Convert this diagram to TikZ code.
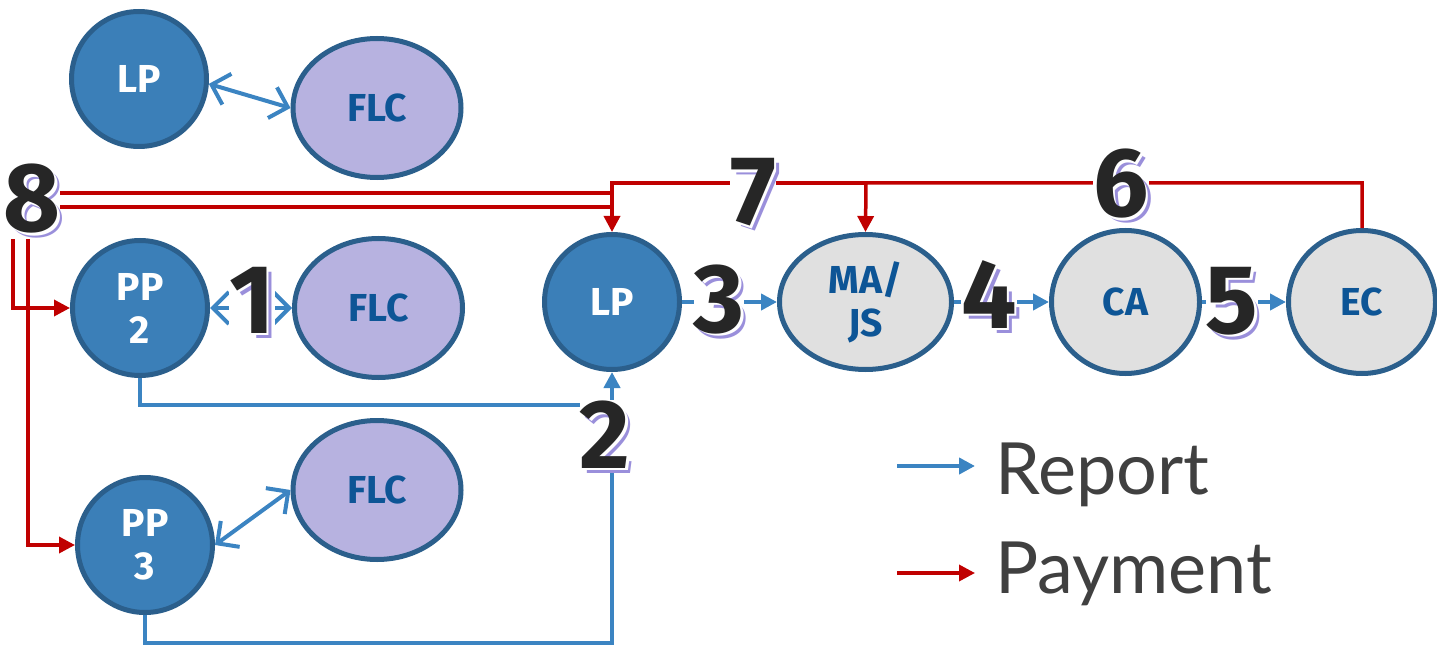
\documentclass[tikz,border=0pt]{standalone}
\usepackage{fontspec}
\setsansfont{Fira Sans}
\newfontfamily\legendfont{Lato}
\usetikzlibrary{positioning,shapes.geometric,arrows.meta}

\definecolor{lpblue}{RGB}{59,127,184}
\definecolor{rimblue}{RGB}{43,95,140}
\definecolor{flcpurple}{RGB}{183,178,224}
\definecolor{bodygray}{RGB}{224,224,224}
\definecolor{inkblue}{RGB}{13,85,150}
\definecolor{reportblue}{RGB}{59,132,194}
\definecolor{payred}{RGB}{192,0,0}
\definecolor{numshade}{RGB}{154,143,219}
\definecolor{numink}{RGB}{38,38,38}
\definecolor{legendgray}{RGB}{64,64,64}

\newcommand{\bignum}[1]{%
  \makebox[0pt][l]{\hspace{5pt}\raisebox{-5pt}{\color{numshade}#1}}%
  \makebox[0pt][l]{\hspace{2.5pt}\raisebox{-2.5pt}{\color{white}#1}}%
  #1}

\begin{document}
\begin{tikzpicture}[x=1pt, y=-1pt, node distance=95pt,
    party/.style={draw=rimblue, line width=5pt, inner sep=0pt, align=center,
      font=\sffamily\bfseries\fontsize{39}{43}\selectfont},
    lpnode/.style={party, circle, fill=lpblue, text=white, minimum size=135pt},
    flcnode/.style={party, ellipse, fill=flcpurple, text=inkblue, minimum width=168pt, minimum height=139pt},
    bodynode/.style={party, ellipse, fill=bodygray, text=inkblue},
    numlabel/.style={fill=white, inner sep=0pt, anchor=base, text=numink,
      font=\sffamily\bfseries\fontsize{98}{98}\selectfont},
    link/.style={reportblue, line width=4pt, {Straight Barb[length=16pt,width=32pt]}-{Straight Barb[length=16pt,width=32pt]}},
    report/.style={reportblue, line width=4pt, -{Triangle[length=16pt,width=16pt]}},
    payment/.style={payred, line width=3.5pt, -{Triangle[length=16pt,width=16pt]}},
    legendtext/.style={inner sep=0pt, text=legendgray, font=\legendfont\fontsize{72}{72}\selectfont}]
    \useasboundingbox (0,0) rectangle (1437,647);

    % Define the parties
    \node[lpnode] (lpa) at (139,79) {LP};
    \node[flcnode] (flca) at (377,108) {FLC};
    \node[lpnode] (pp2) at (140,308) {PP\\2};
    \node[flcnode, right=82pt of pp2] (flcb) {FLC};
    \node[lpnode] (pp3) at (145,545) {PP\\3};
    \node[flcnode] (flcc) at (377,490) {FLC};
    \node[lpnode] (lpb) at (612,302) {LP};
    \node[bodynode, minimum width=172pt, minimum height=135pt, right=of lpb] (majs) {MA/\\JS};
    \node[bodynode, minimum width=148pt, minimum height=143pt, right=of majs] (ca) {CA};
    \node[bodynode, minimum width=147pt, minimum height=143pt, right=84pt of ca] (ec) {EC};

    % Corners of the connectors
    \coordinate (rptjoin) at (612,405);
    \coordinate (rptbase) at (612,643);
    \coordinate (paytop6) at (866,183);
    \coordinate (paytop7) at (612,183);
    \coordinate (payhub8a) at (612,193);
    \coordinate (paybend8a) at (13,193);
    \coordinate (payhub8b) at (612,207);
    \coordinate (paybend8b) at (28,207);

    % Draw the report connectors
    \draw[link] (lpa.-4) -- (flca.west);
    \draw[link] (pp2.east) -- (flcb.west);
    \draw[link] (pp3.east) -- (flcc.west);
    \draw[report, -] (pp2.south) |- (rptjoin);
    \draw[report] (pp3.south) |- (rptbase) -- (lpb.south);
    \draw[report] (lpb) -- (majs);
    \draw[report] (majs) -- (ca);
    \draw[report] (ca) -- (ec);

    % Draw the payment connectors
    \draw[payment] (ec.north) |- (paytop6) -- (majs.north);
    \draw[payment] (paytop6) -- (paytop7) -- (lpb.north);
    \draw[payment] (payhub8a) -- (paybend8a) |- (pp2.west);
    \draw[payment] (payhub8b) -- (paybend8b) |- (pp3.west);

    % Step numbers
    \node[numlabel] (num1) at (252,333) {\bignum{1}};
    \node[numlabel] (num2) at (605,468) {\bignum{2}};
    \node[numlabel] (num3) at (719,332) {\bignum{3}};
    \node[numlabel] (num4) at (989,328) {\bignum{4}};
    \node[numlabel] (num5) at (1232,333) {\bignum{5}};
    \node[numlabel] (num6) at (1121,217) {\bignum{6}};
    \node[numlabel] (num7) at (753,225) {\bignum{7}};
    \node[numlabel] (num8) at (32,232) {\bignum{8}};

    % Legend
    \coordinate (repfrom) at (897,466);
    \coordinate (repto) at (975,466);
    \coordinate (payfrom) at (897,573);
    \coordinate (payto) at (975,573);
    \draw[report] (repfrom) -- (repto);
    \draw[payment] (payfrom) -- (payto);
    \node[legendtext, anchor=base west] (reptext) at (995,494) {Report};
    \node[legendtext, anchor=base west] (paytext) at (995,593) {Payment};
\end{tikzpicture}
\end{document}
